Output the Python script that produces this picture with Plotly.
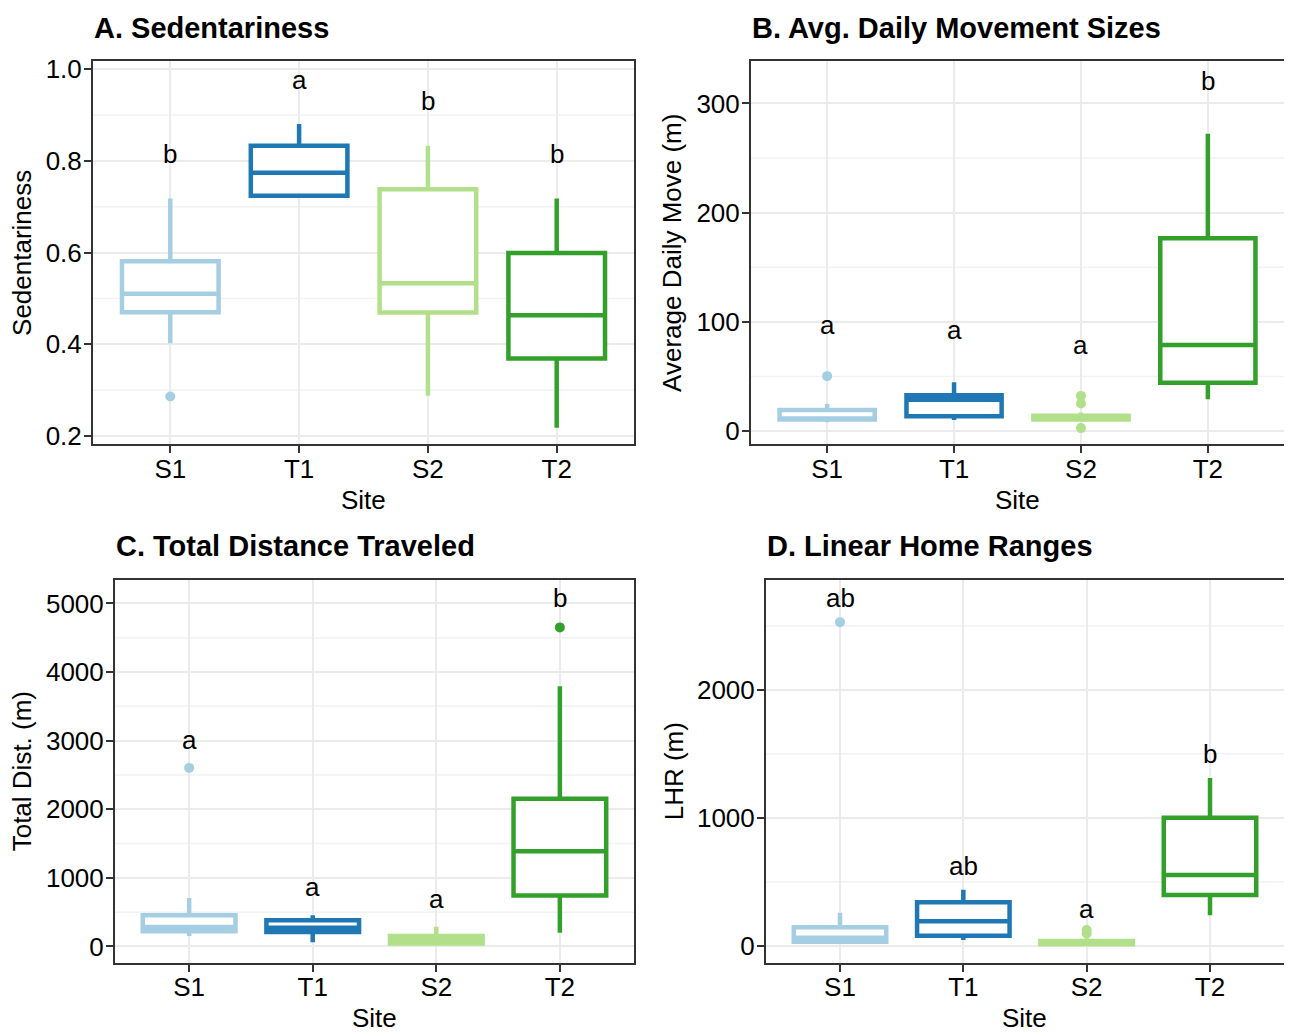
import plotly.graph_objects as go

# ---------------- data ----------------
sites = ["S1", "T1", "S2", "T2"]
colors = ["#A6CEE3", "#1F78B4", "#B2DF8A", "#33A02C"]

# A. Sedentariness
sed_lo = [0.402, 0.724, 0.288, 0.218]
sed_q1 = [0.470, 0.724, 0.469, 0.369]
sed_med = [0.510, 0.774, 0.533, 0.463]
sed_q3 = [0.581, 0.833, 0.738, 0.599]
sed_hi = [0.718, 0.880, 0.833, 0.718]
sed_out = {"S1": [0.286]}
sed_letters = ["b", "a", "b", "b"]
sed_letter_y = [0.814, 0.977, 0.930, 0.814]

# B. Avg. Daily Movement Sizes
mv_lo = [8.0, 10.2, 9.0, 29.2]
mv_q1 = [10.5, 13.5, 10.5, 44.2]
mv_med = [11.5, 28.6, 12.0, 78.8]
mv_q3 = [19.3, 32.8, 14.0, 176.6]
mv_hi = [24.7, 44.8, 17.0, 272.3]
mv_out = {"S1": [50.3], "S2": [32.2, 25.3, 2.7]}
mv_letters = ["a", "a", "a", "b"]
mv_letter_y = [96.9, 93.0, 78.8, 321.0]

# C. Total Distance Traveled
td_lo = [153, 62, 20, 201]
td_q1 = [220, 211, 43, 742]
td_med = [282, 273, 96, 1388]
td_q3 = [455, 383, 153, 2153]
td_hi = [708, 455, 287, 3794]
td_out = {"S1": [2603], "T2": [4651]}
td_letters = ["a", "a", "a", "b"]
td_letter_y = [3015, 871, 694, 5082]

# D. Linear Home Ranges
lhr_lo = [15, 46, 5, 238]
lhr_q1 = [31, 79, 13, 397]
lhr_med = [64, 192, 26, 554]
lhr_q3 = [146, 341, 38, 1000]
lhr_hi = [259, 438, 60, 1310]
lhr_out = {"S1": [2528], "S2": [123, 97]}
lhr_letters = ["ab", "ab", "a", "b"]
lhr_letter_y = [2713, 623, 290, 1500]

# page is offset by the default 8px body margin
OFF = 8
W, H = 1292 - OFF, 1036 - OFF
FONT = "Liberation Sans, Arial, sans-serif"


def fx(px):
    return (px - OFF) / W


def fy(py):
    return 1 - (py - OFF) / H


panels = [
    dict(title="A. Sedentariness", ytitle="Sedentariness",
         lo=sed_lo, q1=sed_q1, med=sed_med, q3=sed_q3, hi=sed_hi, out=sed_out,
         letters=sed_letters, ly=sed_letter_y,
         px=(93, 634), py=(55, 443), yr=[0.1815, 1.0166],
         tickvals=[0.2, 0.4, 0.6, 0.8, 1.0], ticktext=["0.2", "0.4", "0.6", "0.8", "1.0"],
         minor=[0.3, 0.5, 0.7, 0.9], ytx=22),
    dict(title="B. Avg. Daily Movement Sizes", ytitle="Average Daily Move (m)",
         lo=mv_lo, q1=mv_q1, med=mv_med, q3=mv_q3, hi=mv_hi, out=mv_out,
         letters=mv_letters, ly=mv_letter_y,
         px=(751, 1284), py=(55, 443), yr=[-12.3, 338.5],
         tickvals=[0, 100, 200, 300], ticktext=["0", "100", "200", "300"],
         minor=[50, 150, 250], ytx=672),
    dict(title="C. Total Distance Traveled", ytitle="Total Dist. (m)",
         lo=td_lo, q1=td_q1, med=td_med, q3=td_q3, hi=td_hi, out=td_out,
         letters=td_letters, ly=td_letter_y,
         px=(115, 634), py=(580, 968), yr=[-239, 5345],
         tickvals=[0, 1000, 2000, 3000, 4000, 5000],
         ticktext=["0", "1000", "2000", "3000", "4000", "5000"],
         minor=[500, 1500, 2500, 3500, 4500], ytx=22),
    dict(title="D. Linear Home Ranges", ytitle="LHR (m)",
         lo=lhr_lo, q1=lhr_q1, med=lhr_med, q3=lhr_q3, hi=lhr_hi, out=lhr_out,
         letters=lhr_letters, ly=lhr_letter_y,
         px=(766, 1284), py=(580, 968), yr=[-133, 2859],
         tickvals=[0, 1000, 2000], ticktext=["0", "1000", "2000"],
         minor=[500, 1500, 2500], ytx=674),
]

fig = go.Figure()
annotations = []
shapes = []

for i, p in enumerate(panels):
    n = "" if i == 0 else str(i + 1)
    xa, ya = "x" + n, "y" + n
    xdom = [fx(p["px"][0]), fx(p["px"][1])]
    ydom = [fy(p["py"][1]), fy(p["py"][0])]

    # minor horizontal gridlines
    for mv in p["minor"]:
        shapes.append(dict(type="line", xref=xa + " domain", yref=ya, x0=0, x1=1, y0=mv, y1=mv,
                           line=dict(color="#F2F2F2", width=1.5), layer="below"))

    for j, s in enumerate(sites):
        fig.add_trace(go.Box(
            x=[s], q1=[p["q1"][j]], median=[p["med"][j]], q3=[p["q3"][j]],
            lowerfence=[p["lo"][j]], upperfence=[p["hi"][j]],
            boxpoints=False, whiskerwidth=0, width=0.75,
            line=dict(color=colors[j], width=4.5), fillcolor="white",
            xaxis=xa, yaxis=ya, showlegend=False, hoverinfo="skip"))
        if s in p["out"]:
            vals = p["out"][s]
            fig.add_trace(go.Scatter(
                x=[s] * len(vals), y=vals, mode="markers",
                marker=dict(color=colors[j], size=10),
                xaxis=xa, yaxis=ya, showlegend=False, hoverinfo="skip"))
        annotations.append(dict(x=s, y=p["ly"][j], xref=xa, yref=ya, text=p["letters"][j],
                                showarrow=False, font=dict(size=26, color="black", family=FONT),
                                yanchor="middle"))

    fig.layout["xaxis" + n] = dict(
        domain=xdom, anchor=ya, type="category", categoryorder="array", categoryarray=sites,
        range=[-0.6, 3.6], showgrid=True, gridcolor="#EBEBEB", gridwidth=2,
        showline=True, linecolor="#333333", linewidth=2, mirror=True,
        ticks="outside", ticklen=7, tickwidth=2, tickcolor="#333333", ticklabelstandoff=-7,
        tickfont=dict(size=26, color="black", family=FONT), zeroline=False, fixedrange=True)
    fig.layout["yaxis" + n] = dict(
        domain=ydom, anchor=xa, range=p["yr"], tickvals=p["tickvals"], ticktext=p["ticktext"],
        showgrid=True, gridcolor="#EBEBEB", gridwidth=2,
        showline=True, linecolor="#333333", linewidth=2, mirror=True,
        ticks="outside", ticklen=7, tickwidth=2, tickcolor="#333333", ticklabelstandoff=-3,
        tickfont=dict(size=26, color="black", family=FONT), zeroline=False, fixedrange=True)

    # panel title
    annotations.append(dict(x=fx(p["px"][0] - 1), y=fy(p["py"][0] - 34), xref="paper", yref="paper",
                            text="<b>" + p["title"] + "</b>", showarrow=False, xanchor="left",
                            yanchor="middle", font=dict(size=29, color="black", family=FONT)))
    # x axis title
    annotations.append(dict(x=fx((p["px"][0] + p["px"][1]) / 2), y=fy(p["py"][1] + 56),
                            xref="paper", yref="paper", text="Site", showarrow=False,
                            xanchor="center", yanchor="middle",
                            font=dict(size=26, color="black", family=FONT)))
    # y axis title
    annotations.append(dict(x=fx(p["ytx"]), y=fy((p["py"][0] + p["py"][1]) / 2),
                            xref="paper", yref="paper", text=p["ytitle"], textangle=-90,
                            showarrow=False, xanchor="center", yanchor="middle",
                            font=dict(size=26, color="black", family=FONT)))

fig.update_layout(
    width=W, height=H, margin=dict(l=0, r=0, t=0, b=0),
    paper_bgcolor="white", plot_bgcolor="white",
    boxmode="overlay", showlegend=False,
    annotations=annotations, shapes=shapes,
    font=dict(family=FONT),
)

fig.write_html("out.html")
